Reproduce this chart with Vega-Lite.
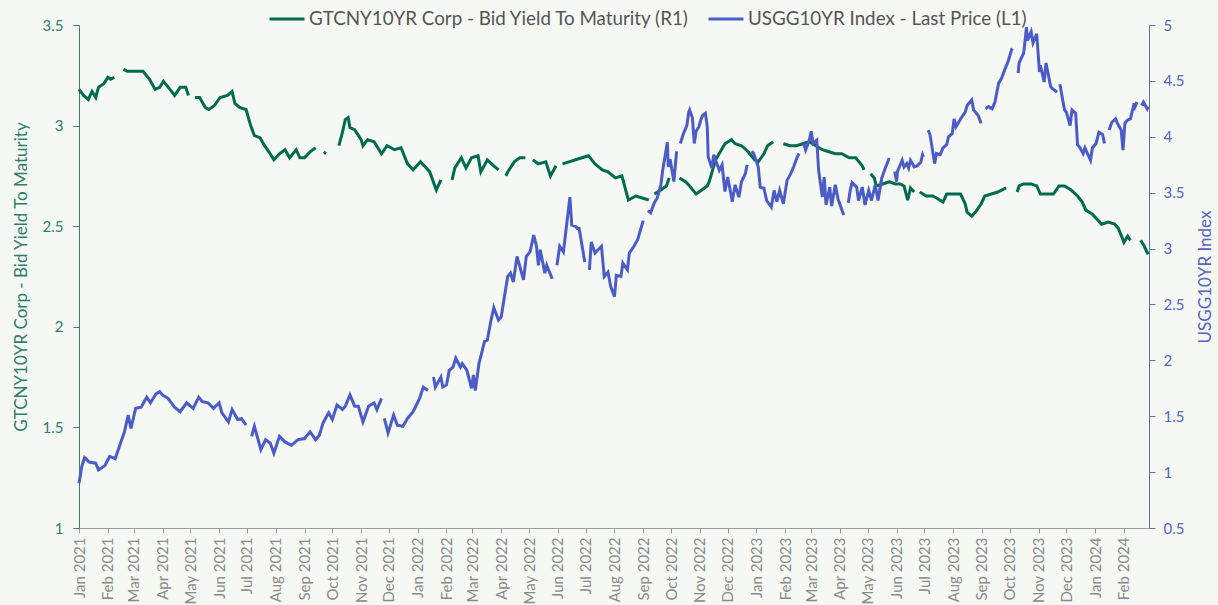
{
  "$schema": "https://vega.github.io/schema/vega-lite/v6.json",
  "width": 1070,
  "height": 503,
  "autosize": {"type": "none"},
  "padding": {"left": 79, "top": 25, "right": 69, "bottom": 77},
  "background": "#f6f8f4",
  "config": {
    "view": {"stroke": null},
    "font": "Lato",
    "axis": {"grid": false, "labelFont": "Lato", "titleFont": "Lato", "titleFontWeight": "normal"},
    "legend": {"labelFont": "Lato"}
  },
  "datasets": {
    "cn": [
      {"date": "2021-01-01", "value": 3.18}, {"date": "2021-01-06", "value": 3.15}, {"date": "2021-01-11", "value": 3.13},
      {"date": "2021-01-15", "value": 3.17}, {"date": "2021-01-19", "value": 3.14}, {"date": "2021-01-22", "value": 3.19},
      {"date": "2021-01-28", "value": 3.21}, {"date": "2021-02-01", "value": 3.24}, {"date": "2021-02-04", "value": 3.23},
      {"date": "2021-02-08", "value": 3.24}, {"date": "2021-02-12", "value": null}, {"date": "2021-02-18", "value": 3.28},
      {"date": "2021-02-22", "value": 3.27}, {"date": "2021-02-25", "value": 3.27}, {"date": "2021-03-04", "value": 3.27},
      {"date": "2021-03-11", "value": 3.27}, {"date": "2021-03-18", "value": 3.23}, {"date": "2021-03-24", "value": 3.18},
      {"date": "2021-03-29", "value": 3.19}, {"date": "2021-04-02", "value": 3.22}, {"date": "2021-04-09", "value": 3.18},
      {"date": "2021-04-14", "value": 3.15}, {"date": "2021-04-20", "value": 3.19}, {"date": "2021-04-26", "value": 3.19},
      {"date": "2021-04-29", "value": 3.15}, {"date": "2021-05-03", "value": null}, {"date": "2021-05-06", "value": 3.14},
      {"date": "2021-05-11", "value": 3.14}, {"date": "2021-05-17", "value": 3.09}, {"date": "2021-05-21", "value": 3.08},
      {"date": "2021-05-27", "value": 3.10}, {"date": "2021-06-02", "value": 3.14}, {"date": "2021-06-10", "value": 3.15},
      {"date": "2021-06-15", "value": 3.17}, {"date": "2021-06-18", "value": 3.11}, {"date": "2021-06-23", "value": 3.09},
      {"date": "2021-06-30", "value": 3.08}, {"date": "2021-07-05", "value": 3.00}, {"date": "2021-07-09", "value": 2.95},
      {"date": "2021-07-15", "value": 2.94}, {"date": "2021-07-20", "value": 2.90}, {"date": "2021-07-26", "value": 2.86},
      {"date": "2021-07-30", "value": 2.83}, {"date": "2021-08-05", "value": 2.86}, {"date": "2021-08-11", "value": 2.88},
      {"date": "2021-08-16", "value": 2.84}, {"date": "2021-08-23", "value": 2.88}, {"date": "2021-08-27", "value": 2.84},
      {"date": "2021-09-01", "value": 2.84}, {"date": "2021-09-07", "value": 2.87}, {"date": "2021-09-13", "value": 2.89},
      {"date": "2021-09-20", "value": null}, {"date": "2021-09-22", "value": 2.86}, {"date": "2021-09-24", "value": 2.87},
      {"date": "2021-10-04", "value": null}, {"date": "2021-10-08", "value": 2.90}, {"date": "2021-10-11", "value": 2.95},
      {"date": "2021-10-15", "value": 3.03}, {"date": "2021-10-18", "value": 3.04}, {"date": "2021-10-20", "value": 2.99},
      {"date": "2021-10-25", "value": 2.98}, {"date": "2021-11-01", "value": 2.93}, {"date": "2021-11-03", "value": 2.90},
      {"date": "2021-11-08", "value": 2.93}, {"date": "2021-11-15", "value": 2.92}, {"date": "2021-11-23", "value": 2.86},
      {"date": "2021-11-29", "value": 2.90}, {"date": "2021-12-07", "value": 2.88}, {"date": "2021-12-14", "value": 2.89},
      {"date": "2021-12-21", "value": 2.81}, {"date": "2021-12-27", "value": 2.78}, {"date": "2022-01-04", "value": 2.82},
      {"date": "2022-01-10", "value": 2.79}, {"date": "2022-01-14", "value": 2.77}, {"date": "2022-01-21", "value": 2.68},
      {"date": "2022-01-26", "value": 2.73}, {"date": "2022-02-01", "value": null}, {"date": "2022-02-07", "value": 2.73},
      {"date": "2022-02-10", "value": 2.79}, {"date": "2022-02-17", "value": 2.84}, {"date": "2022-02-22", "value": 2.79},
      {"date": "2022-02-28", "value": 2.84}, {"date": "2022-03-07", "value": 2.85}, {"date": "2022-03-10", "value": 2.77},
      {"date": "2022-03-17", "value": 2.83}, {"date": "2022-03-24", "value": 2.80}, {"date": "2022-03-29", "value": 2.78},
      {"date": "2022-04-04", "value": null}, {"date": "2022-04-06", "value": 2.75}, {"date": "2022-04-08", "value": 2.77},
      {"date": "2022-04-15", "value": 2.82}, {"date": "2022-04-21", "value": 2.84}, {"date": "2022-04-27", "value": 2.84},
      {"date": "2022-05-02", "value": null}, {"date": "2022-05-05", "value": 2.83}, {"date": "2022-05-11", "value": 2.81},
      {"date": "2022-05-19", "value": 2.82}, {"date": "2022-05-24", "value": 2.75}, {"date": "2022-05-30", "value": 2.80},
      {"date": "2022-06-03", "value": null}, {"date": "2022-06-06", "value": 2.81}, {"date": "2022-06-13", "value": 2.82},
      {"date": "2022-06-20", "value": 2.83}, {"date": "2022-06-27", "value": 2.84}, {"date": "2022-07-04", "value": 2.85},
      {"date": "2022-07-11", "value": 2.81}, {"date": "2022-07-19", "value": 2.78}, {"date": "2022-07-25", "value": 2.77},
      {"date": "2022-08-02", "value": 2.74}, {"date": "2022-08-09", "value": 2.75}, {"date": "2022-08-16", "value": 2.63},
      {"date": "2022-08-24", "value": 2.65}, {"date": "2022-08-31", "value": 2.64}, {"date": "2022-09-07", "value": 2.63},
      {"date": "2022-09-12", "value": null}, {"date": "2022-09-13", "value": 2.66}, {"date": "2022-09-20", "value": 2.68},
      {"date": "2022-09-26", "value": 2.70}, {"date": "2022-09-29", "value": 2.74}, {"date": "2022-10-03", "value": null},
      {"date": "2022-10-10", "value": 2.74}, {"date": "2022-10-17", "value": 2.72}, {"date": "2022-10-21", "value": 2.70},
      {"date": "2022-10-28", "value": 2.66}, {"date": "2022-11-03", "value": 2.68}, {"date": "2022-11-09", "value": 2.70},
      {"date": "2022-11-11", "value": 2.72}, {"date": "2022-11-18", "value": 2.83}, {"date": "2022-11-28", "value": 2.91},
      {"date": "2022-12-05", "value": 2.93}, {"date": "2022-12-09", "value": 2.91}, {"date": "2022-12-16", "value": 2.90},
      {"date": "2022-12-23", "value": 2.87}, {"date": "2022-12-30", "value": 2.83}, {"date": "2023-01-03", "value": 2.82},
      {"date": "2023-01-09", "value": 2.86}, {"date": "2023-01-13", "value": 2.90}, {"date": "2023-01-19", "value": 2.92},
      {"date": "2023-01-24", "value": null}, {"date": "2023-01-30", "value": 2.91}, {"date": "2023-02-06", "value": 2.90},
      {"date": "2023-02-13", "value": 2.90}, {"date": "2023-02-20", "value": 2.91}, {"date": "2023-02-27", "value": 2.92},
      {"date": "2023-03-06", "value": 2.90}, {"date": "2023-03-13", "value": 2.88}, {"date": "2023-03-20", "value": 2.87},
      {"date": "2023-03-27", "value": 2.86}, {"date": "2023-04-03", "value": 2.86}, {"date": "2023-04-11", "value": 2.84},
      {"date": "2023-04-18", "value": 2.84}, {"date": "2023-04-25", "value": 2.80}, {"date": "2023-04-27", "value": 2.78},
      {"date": "2023-05-01", "value": null}, {"date": "2023-05-04", "value": 2.76}, {"date": "2023-05-08", "value": 2.74},
      {"date": "2023-05-10", "value": 2.70}, {"date": "2023-05-17", "value": 2.71}, {"date": "2023-05-24", "value": 2.72},
      {"date": "2023-05-31", "value": 2.71}, {"date": "2023-06-05", "value": 2.71}, {"date": "2023-06-09", "value": 2.70},
      {"date": "2023-06-13", "value": 2.63}, {"date": "2023-06-16", "value": 2.69}, {"date": "2023-06-20", "value": 2.67},
      {"date": "2023-06-22", "value": null}, {"date": "2023-06-26", "value": 2.67}, {"date": "2023-07-03", "value": 2.65},
      {"date": "2023-07-10", "value": 2.65}, {"date": "2023-07-14", "value": 2.64}, {"date": "2023-07-21", "value": 2.62},
      {"date": "2023-07-25", "value": 2.66}, {"date": "2023-08-01", "value": 2.66}, {"date": "2023-08-09", "value": 2.66},
      {"date": "2023-08-14", "value": 2.61}, {"date": "2023-08-16", "value": 2.57}, {"date": "2023-08-21", "value": 2.55},
      {"date": "2023-08-25", "value": 2.57}, {"date": "2023-08-31", "value": 2.61}, {"date": "2023-09-04", "value": 2.65},
      {"date": "2023-09-11", "value": 2.66}, {"date": "2023-09-18", "value": 2.67}, {"date": "2023-09-27", "value": 2.69},
      {"date": "2023-10-02", "value": null}, {"date": "2023-10-09", "value": 2.67}, {"date": "2023-10-11", "value": 2.70},
      {"date": "2023-10-16", "value": 2.71}, {"date": "2023-10-24", "value": 2.71}, {"date": "2023-10-30", "value": 2.70},
      {"date": "2023-11-03", "value": 2.66}, {"date": "2023-11-10", "value": 2.66}, {"date": "2023-11-17", "value": 2.66},
      {"date": "2023-11-23", "value": 2.70}, {"date": "2023-11-29", "value": 2.70}, {"date": "2023-12-06", "value": 2.68},
      {"date": "2023-12-13", "value": 2.65}, {"date": "2023-12-18", "value": 2.62}, {"date": "2023-12-22", "value": 2.58},
      {"date": "2023-12-29", "value": 2.56}, {"date": "2024-01-08", "value": 2.51}, {"date": "2024-01-15", "value": 2.52},
      {"date": "2024-01-22", "value": 2.51}, {"date": "2024-01-26", "value": 2.49}, {"date": "2024-02-01", "value": 2.42},
      {"date": "2024-02-05", "value": 2.45}, {"date": "2024-02-08", "value": 2.43}, {"date": "2024-02-12", "value": null},
      {"date": "2024-02-19", "value": 2.43}, {"date": "2024-02-23", "value": 2.40}, {"date": "2024-02-27", "value": 2.36}
    ],
    "us": [
      {"date": "2021-01-01", "value": 0.90}, {"date": "2021-01-04", "value": 1.05}, {"date": "2021-01-07", "value": 1.13},
      {"date": "2021-01-12", "value": 1.09}, {"date": "2021-01-19", "value": 1.08}, {"date": "2021-01-22", "value": 1.02},
      {"date": "2021-01-29", "value": 1.06}, {"date": "2021-02-03", "value": 1.14}, {"date": "2021-02-09", "value": 1.12},
      {"date": "2021-02-16", "value": 1.29}, {"date": "2021-02-19", "value": 1.36}, {"date": "2021-02-23", "value": 1.51},
      {"date": "2021-02-26", "value": 1.39}, {"date": "2021-03-03", "value": 1.57}, {"date": "2021-03-09", "value": 1.58},
      {"date": "2021-03-15", "value": 1.67}, {"date": "2021-03-19", "value": 1.62}, {"date": "2021-03-25", "value": 1.70},
      {"date": "2021-03-29", "value": 1.72}, {"date": "2021-04-01", "value": 1.69}, {"date": "2021-04-07", "value": 1.66},
      {"date": "2021-04-14", "value": 1.58}, {"date": "2021-04-20", "value": 1.54}, {"date": "2021-04-27", "value": 1.62},
      {"date": "2021-05-04", "value": 1.57}, {"date": "2021-05-10", "value": 1.67}, {"date": "2021-05-14", "value": 1.63},
      {"date": "2021-05-20", "value": 1.62}, {"date": "2021-05-26", "value": 1.57}, {"date": "2021-06-01", "value": 1.62},
      {"date": "2021-06-04", "value": 1.53}, {"date": "2021-06-11", "value": 1.45}, {"date": "2021-06-15", "value": 1.56},
      {"date": "2021-06-21", "value": 1.47}, {"date": "2021-06-25", "value": 1.48}, {"date": "2021-06-30", "value": 1.42},
      {"date": "2021-07-05", "value": null}, {"date": "2021-07-06", "value": 1.32}, {"date": "2021-07-09", "value": 1.41},
      {"date": "2021-07-16", "value": 1.20}, {"date": "2021-07-21", "value": 1.29}, {"date": "2021-07-26", "value": 1.26},
      {"date": "2021-07-30", "value": 1.17}, {"date": "2021-08-05", "value": 1.32}, {"date": "2021-08-11", "value": 1.27},
      {"date": "2021-08-18", "value": 1.24}, {"date": "2021-08-25", "value": 1.29}, {"date": "2021-09-01", "value": 1.30},
      {"date": "2021-09-07", "value": 1.36}, {"date": "2021-09-13", "value": 1.29}, {"date": "2021-09-17", "value": 1.33},
      {"date": "2021-09-21", "value": 1.44}, {"date": "2021-09-27", "value": 1.53}, {"date": "2021-10-01", "value": 1.47},
      {"date": "2021-10-06", "value": 1.60}, {"date": "2021-10-12", "value": 1.56}, {"date": "2021-10-15", "value": 1.59},
      {"date": "2021-10-20", "value": 1.69}, {"date": "2021-10-25", "value": 1.59}, {"date": "2021-10-29", "value": 1.59},
      {"date": "2021-11-03", "value": 1.45}, {"date": "2021-11-09", "value": 1.59}, {"date": "2021-11-15", "value": 1.62},
      {"date": "2021-11-18", "value": 1.56}, {"date": "2021-11-23", "value": 1.66}, {"date": "2021-11-25", "value": null},
      {"date": "2021-11-26", "value": 1.48}, {"date": "2021-11-30", "value": 1.35}, {"date": "2021-12-06", "value": 1.51},
      {"date": "2021-12-10", "value": 1.42}, {"date": "2021-12-16", "value": 1.41}, {"date": "2021-12-21", "value": 1.48},
      {"date": "2021-12-27", "value": 1.54}, {"date": "2022-01-03", "value": 1.66}, {"date": "2022-01-07", "value": 1.76},
      {"date": "2022-01-12", "value": 1.73}, {"date": "2022-01-17", "value": null}, {"date": "2022-01-18", "value": 1.85},
      {"date": "2022-01-20", "value": 1.76}, {"date": "2022-01-26", "value": 1.85}, {"date": "2022-01-28", "value": 1.76},
      {"date": "2022-02-01", "value": 1.78}, {"date": "2022-02-04", "value": 1.91}, {"date": "2022-02-08", "value": 1.94},
      {"date": "2022-02-11", "value": 2.02}, {"date": "2022-02-16", "value": 1.94}, {"date": "2022-02-18", "value": 1.97},
      {"date": "2022-02-23", "value": 1.91}, {"date": "2022-02-28", "value": 1.75}, {"date": "2022-03-02", "value": 1.87},
      {"date": "2022-03-04", "value": 1.73}, {"date": "2022-03-08", "value": 1.97}, {"date": "2022-03-14", "value": 2.17},
      {"date": "2022-03-17", "value": 2.18}, {"date": "2022-03-21", "value": 2.36}, {"date": "2022-03-24", "value": 2.47},
      {"date": "2022-03-29", "value": 2.36}, {"date": "2022-04-01", "value": 2.39}, {"date": "2022-04-05", "value": 2.60},
      {"date": "2022-04-08", "value": 2.75}, {"date": "2022-04-11", "value": 2.78}, {"date": "2022-04-14", "value": 2.70},
      {"date": "2022-04-18", "value": 2.93}, {"date": "2022-04-21", "value": 2.84}, {"date": "2022-04-25", "value": 2.72},
      {"date": "2022-04-28", "value": 2.93}, {"date": "2022-05-02", "value": 2.97}, {"date": "2022-05-06", "value": 3.12},
      {"date": "2022-05-09", "value": 3.02}, {"date": "2022-05-11", "value": 2.85}, {"date": "2022-05-13", "value": 2.99},
      {"date": "2022-05-18", "value": 2.78}, {"date": "2022-05-20", "value": 2.85}, {"date": "2022-05-26", "value": 2.73},
      {"date": "2022-05-30", "value": null}, {"date": "2022-05-31", "value": 2.85}, {"date": "2022-06-03", "value": 3.02},
      {"date": "2022-06-07", "value": 2.97}, {"date": "2022-06-14", "value": 3.46}, {"date": "2022-06-16", "value": 3.21},
      {"date": "2022-06-20", "value": 3.20}, {"date": "2022-06-22", "value": 3.18}, {"date": "2022-06-24", "value": 3.18},
      {"date": "2022-06-30", "value": 2.88}, {"date": "2022-07-04", "value": null}, {"date": "2022-07-05", "value": 2.81},
      {"date": "2022-07-07", "value": 3.06}, {"date": "2022-07-11", "value": 2.96}, {"date": "2022-07-18", "value": 3.02},
      {"date": "2022-07-21", "value": 2.75}, {"date": "2022-07-25", "value": 2.79}, {"date": "2022-07-28", "value": 2.66},
      {"date": "2022-08-01", "value": 2.57}, {"date": "2022-08-03", "value": 2.76}, {"date": "2022-08-08", "value": 2.75},
      {"date": "2022-08-10", "value": 2.87}, {"date": "2022-08-15", "value": 2.81}, {"date": "2022-08-17", "value": 2.96},
      {"date": "2022-08-22", "value": 3.02}, {"date": "2022-08-26", "value": 3.08}, {"date": "2022-09-01", "value": 3.25},
      {"date": "2022-09-05", "value": null}, {"date": "2022-09-06", "value": 3.34}, {"date": "2022-09-09", "value": 3.32},
      {"date": "2022-09-13", "value": 3.41}, {"date": "2022-09-16", "value": 3.45}, {"date": "2022-09-20", "value": 3.57},
      {"date": "2022-09-22", "value": 3.70}, {"date": "2022-09-27", "value": 3.95}, {"date": "2022-09-28", "value": 3.73},
      {"date": "2022-09-30", "value": 3.80}, {"date": "2022-10-04", "value": 3.60}, {"date": "2022-10-07", "value": 3.87},
      {"date": "2022-10-10", "value": null}, {"date": "2022-10-11", "value": 3.94}, {"date": "2022-10-14", "value": 4.02},
      {"date": "2022-10-18", "value": 4.10}, {"date": "2022-10-20", "value": 4.22}, {"date": "2022-10-21", "value": 4.24},
      {"date": "2022-10-24", "value": 4.17}, {"date": "2022-10-26", "value": 3.94}, {"date": "2022-10-28", "value": 4.05},
      {"date": "2022-10-31", "value": 4.09}, {"date": "2022-11-02", "value": 4.15}, {"date": "2022-11-04", "value": 4.19},
      {"date": "2022-11-07", "value": 4.21}, {"date": "2022-11-09", "value": 4.09}, {"date": "2022-11-10", "value": 3.82},
      {"date": "2022-11-14", "value": 3.72}, {"date": "2022-11-16", "value": 3.84}, {"date": "2022-11-18", "value": 3.79},
      {"date": "2022-11-22", "value": 3.70}, {"date": "2022-11-25", "value": 3.75}, {"date": "2022-11-28", "value": 3.51},
      {"date": "2022-12-01", "value": 3.64}, {"date": "2022-12-06", "value": 3.42}, {"date": "2022-12-09", "value": 3.57},
      {"date": "2022-12-13", "value": 3.46}, {"date": "2022-12-16", "value": 3.60}, {"date": "2022-12-20", "value": 3.67},
      {"date": "2022-12-22", "value": 3.75}, {"date": "2022-12-26", "value": null}, {"date": "2022-12-27", "value": 3.87},
      {"date": "2022-12-29", "value": 3.85}, {"date": "2023-01-03", "value": 3.73}, {"date": "2023-01-05", "value": 3.55},
      {"date": "2023-01-09", "value": 3.54}, {"date": "2023-01-12", "value": 3.43}, {"date": "2023-01-17", "value": 3.37},
      {"date": "2023-01-20", "value": 3.52}, {"date": "2023-01-23", "value": 3.42}, {"date": "2023-01-26", "value": 3.52},
      {"date": "2023-01-30", "value": 3.40}, {"date": "2023-02-03", "value": 3.61}, {"date": "2023-02-07", "value": 3.67},
      {"date": "2023-02-10", "value": 3.73}, {"date": "2023-02-14", "value": 3.82}, {"date": "2023-02-16", "value": 3.85},
      {"date": "2023-02-20", "value": null}, {"date": "2023-02-21", "value": 3.94}, {"date": "2023-02-23", "value": 3.88},
      {"date": "2023-02-27", "value": 3.97}, {"date": "2023-03-01", "value": 4.05}, {"date": "2023-03-03", "value": 3.94},
      {"date": "2023-03-07", "value": 3.97}, {"date": "2023-03-09", "value": 3.70}, {"date": "2023-03-13", "value": 3.46},
      {"date": "2023-03-15", "value": 3.64}, {"date": "2023-03-17", "value": 3.39}, {"date": "2023-03-21", "value": 3.55},
      {"date": "2023-03-23", "value": 3.38}, {"date": "2023-03-27", "value": 3.57}, {"date": "2023-03-30", "value": 3.44},
      {"date": "2023-04-05", "value": 3.30}, {"date": "2023-04-07", "value": null}, {"date": "2023-04-10", "value": 3.41},
      {"date": "2023-04-12", "value": 3.52}, {"date": "2023-04-14", "value": 3.59}, {"date": "2023-04-19", "value": 3.55},
      {"date": "2023-04-21", "value": 3.43}, {"date": "2023-04-25", "value": 3.55}, {"date": "2023-04-28", "value": 3.39},
      {"date": "2023-05-02", "value": 3.52}, {"date": "2023-05-05", "value": 3.43}, {"date": "2023-05-09", "value": 3.57},
      {"date": "2023-05-12", "value": 3.43}, {"date": "2023-05-16", "value": 3.63}, {"date": "2023-05-19", "value": 3.70},
      {"date": "2023-05-24", "value": 3.81}, {"date": "2023-05-29", "value": null}, {"date": "2023-05-30", "value": 3.69},
      {"date": "2023-06-01", "value": 3.60}, {"date": "2023-06-02", "value": 3.69}, {"date": "2023-06-05", "value": 3.75},
      {"date": "2023-06-07", "value": 3.79}, {"date": "2023-06-09", "value": 3.73}, {"date": "2023-06-12", "value": 3.76},
      {"date": "2023-06-14", "value": 3.72}, {"date": "2023-06-16", "value": 3.79}, {"date": "2023-06-20", "value": 3.73},
      {"date": "2023-06-23", "value": 3.74}, {"date": "2023-06-27", "value": 3.77}, {"date": "2023-06-29", "value": 3.84},
      {"date": "2023-06-30", "value": 3.82}, {"date": "2023-07-04", "value": null}, {"date": "2023-07-05", "value": 4.06},
      {"date": "2023-07-07", "value": 4.02}, {"date": "2023-07-12", "value": 3.76}, {"date": "2023-07-14", "value": 3.85},
      {"date": "2023-07-18", "value": 3.84}, {"date": "2023-07-21", "value": 3.90}, {"date": "2023-07-25", "value": 3.93},
      {"date": "2023-07-27", "value": 4.00}, {"date": "2023-07-31", "value": 4.03}, {"date": "2023-08-02", "value": 4.16},
      {"date": "2023-08-04", "value": 4.09}, {"date": "2023-08-09", "value": 4.16}, {"date": "2023-08-14", "value": 4.22},
      {"date": "2023-08-16", "value": 4.28}, {"date": "2023-08-21", "value": 4.33}, {"date": "2023-08-23", "value": 4.24},
      {"date": "2023-08-28", "value": 4.19}, {"date": "2023-08-31", "value": 4.12}, {"date": "2023-09-04", "value": null},
      {"date": "2023-09-05", "value": 4.25}, {"date": "2023-09-08", "value": 4.27}, {"date": "2023-09-12", "value": 4.25},
      {"date": "2023-09-15", "value": 4.31}, {"date": "2023-09-19", "value": 4.48}, {"date": "2023-09-22", "value": 4.52},
      {"date": "2023-09-26", "value": 4.61}, {"date": "2023-09-29", "value": 4.67}, {"date": "2023-10-03", "value": 4.78},
      {"date": "2023-10-04", "value": 4.79}, {"date": "2023-10-09", "value": null}, {"date": "2023-10-10", "value": 4.57},
      {"date": "2023-10-11", "value": 4.66}, {"date": "2023-10-16", "value": 4.75}, {"date": "2023-10-19", "value": 4.98},
      {"date": "2023-10-20", "value": 4.86}, {"date": "2023-10-24", "value": 4.94}, {"date": "2023-10-26", "value": 4.84},
      {"date": "2023-10-30", "value": 4.92}, {"date": "2023-11-02", "value": 4.58}, {"date": "2023-11-03", "value": 4.64},
      {"date": "2023-11-07", "value": 4.49}, {"date": "2023-11-09", "value": 4.66}, {"date": "2023-11-14", "value": 4.45},
      {"date": "2023-11-16", "value": 4.43}, {"date": "2023-11-21", "value": 4.40}, {"date": "2023-11-23", "value": null},
      {"date": "2023-11-24", "value": 4.47}, {"date": "2023-11-27", "value": 4.33}, {"date": "2023-11-29", "value": 4.24},
      {"date": "2023-12-01", "value": 4.22}, {"date": "2023-12-05", "value": 4.10}, {"date": "2023-12-07", "value": 4.24},
      {"date": "2023-12-11", "value": 4.21}, {"date": "2023-12-13", "value": 3.93}, {"date": "2023-12-15", "value": 3.91},
      {"date": "2023-12-19", "value": 3.85}, {"date": "2023-12-21", "value": 3.90}, {"date": "2023-12-27", "value": 3.79},
      {"date": "2023-12-29", "value": 3.90}, {"date": "2024-01-02", "value": 3.94}, {"date": "2024-01-05", "value": 4.04},
      {"date": "2024-01-09", "value": 4.02}, {"date": "2024-01-11", "value": 3.94}, {"date": "2024-01-15", "value": null},
      {"date": "2024-01-16", "value": 4.06}, {"date": "2024-01-19", "value": 4.13}, {"date": "2024-01-23", "value": 4.16},
      {"date": "2024-01-25", "value": 4.12}, {"date": "2024-01-29", "value": 4.06}, {"date": "2024-01-31", "value": 3.88},
      {"date": "2024-02-02", "value": 4.12}, {"date": "2024-02-05", "value": 4.15}, {"date": "2024-02-08", "value": 4.16},
      {"date": "2024-02-12", "value": 4.30}, {"date": "2024-02-13", "value": 4.27}, {"date": "2024-02-15", "value": 4.31},
      {"date": "2024-02-19", "value": null}, {"date": "2024-02-20", "value": 4.28}, {"date": "2024-02-22", "value": 4.31},
      {"date": "2024-02-26", "value": 4.25}, {"date": "2024-02-27", "value": 4.27}
    ]
  },
  "encoding": {
    "x": {
      "field": "date",
      "type": "temporal",
      "scale": {
        "type": "utc",
        "domain": [
          {"year": 2021, "month": 1, "date": 1, "utc": true},
          {"year": 2024, "month": 2, "date": 28, "utc": true}
        ]
      },
      "axis": {
        "title": null,
        "labelExpr": "utcFormat(datum.value, '%b %Y')",
        "tickCount": {"interval": "month", "step": 1},
        "labelAngle": 270,
        "labelFontSize": 15,
        "labelColor": "#8a8a8a",
        "labelPadding": 4,
        "tickSize": 5,
        "tickColor": "#9c9c9c",
        "domainColor": "#9c9c9c",
        "labelFlush": false,
        "labelOverlap": false,
        "labelBound": false
      }
    }
  },
  "layer": [
    {
      "data": {"name": "cn"},
      "mark": {"type": "line", "strokeWidth": 3, "invalid": "break-paths-filter-domains"},
      "encoding": {
        "y": {
          "field": "value",
          "type": "quantitative",
          "scale": {"domain": [1, 3.5], "nice": false, "zero": false},
          "axis": {
            "orient": "left",
            "values": [1, 1.5, 2, 2.5, 3, 3.5],
            "format": "~g",
            "title": "GTCNY10YR Corp - Bid Yield To Maturity",
            "titleColor": "#2f7e69",
            "titleFontSize": 17,
            "titlePadding": 12,
            "labelColor": "#2f7e69",
            "labelFontSize": 15,
            "labelPadding": 10,
            "tickSize": 6,
            "tickColor": "#3f806d",
            "domainColor": "#3f806d"
          }
        },
        "color": {
          "datum": "GTCNY10YR Corp - Bid Yield To Maturity (R1)",
          "scale": {
            "domain": ["GTCNY10YR Corp - Bid Yield To Maturity (R1)", "USGG10YR Index - Last Price (L1)"],
            "range": ["#006b4f", "#4b5cc8"]
          },
          "legend": {
            "orient": "none",
            "legendX": 189,
            "legendY": -25,
            "direction": "horizontal",
            "title": null,
            "symbolType": "stroke",
            "symbolSize": 1225,
            "symbolStrokeWidth": 3,
            "labelFontSize": 18.8,
            "labelColor": "#555555",
            "labelOffset": 3,
            "columnPadding": 12,
            "labelLimit": 500
          }
        }
      }
    },
    {
      "data": {"name": "us"},
      "mark": {"type": "line", "strokeWidth": 3, "invalid": "break-paths-filter-domains"},
      "encoding": {
        "y": {
          "field": "value",
          "type": "quantitative",
          "scale": {"domain": [0.5, 5], "nice": false, "zero": false},
          "axis": {
            "orient": "right",
            "values": [0.5, 1, 1.5, 2, 2.5, 3, 3.5, 4, 4.5, 5],
            "format": "~g",
            "title": "USGG10YR Index",
            "titleAngle": 270,
            "titleBaseline": "top",
            "titleColor": "#5563c4",
            "titleFontSize": 17,
            "titlePadding": 14,
            "labelColor": "#5563c4",
            "labelFontSize": 15,
            "labelPadding": 8,
            "tickSize": 6,
            "tickColor": "#6270b6",
            "domainColor": "#6270b6"
          }
        },
        "color": {"datum": "USGG10YR Index - Last Price (L1)"}
      }
    }
  ],
  "resolve": {"scale": {"y": "independent"}}
}
